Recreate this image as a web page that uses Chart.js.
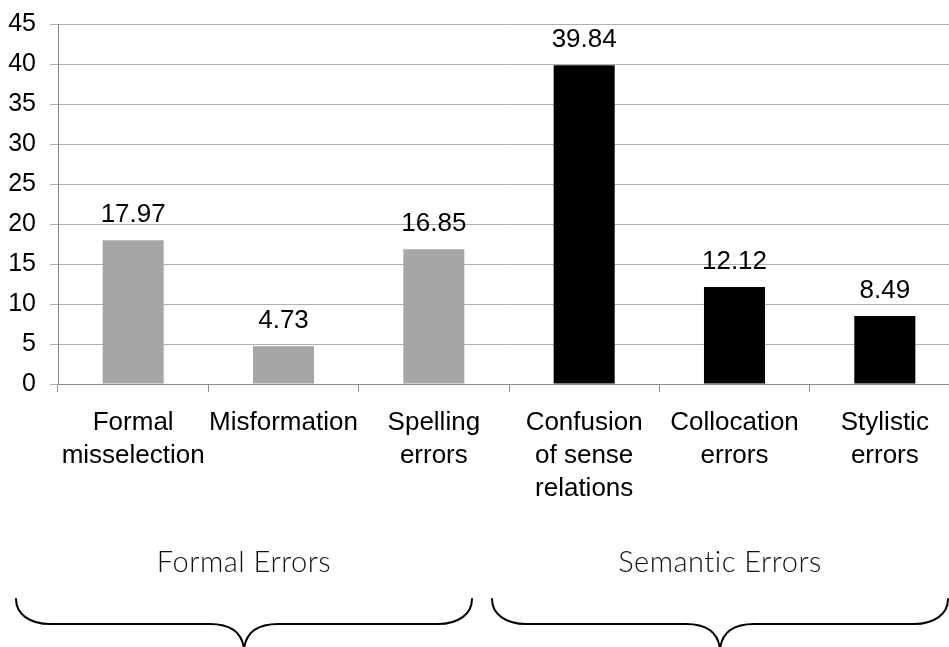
<!DOCTYPE html>
<html>
<head>
<meta charset="utf-8">
<script src="https://cdn.jsdelivr.net/npm/chart.js@4/dist/chart.umd.min.js"></script>
<style>
  html, body { margin: 0; padding: 0; background: #fff; overflow: hidden; }
  #wrap { width: 949px; height: 647px; overflow: hidden; }
  canvas { display: block; }
</style>
</head>
<body>
<div id="wrap"><canvas id="chart" width="960" height="647"></canvas></div>
<script>
// Error categories, in the order they are plotted
const categories = [
  ['Formal', 'misselection'],
  'Misformation',
  ['Spelling', 'errors'],
  ['Confusion', 'of sense', 'relations'],
  ['Collocation', 'errors'],
  ['Stylistic', 'errors']
];
// Share of errors per category
const errorRates = [17.97, 4.73, 16.85, 39.84, 12.12, 8.49];
// Which error family each category belongs to
const errorFamily = ['formal', 'formal', 'formal', 'semantic', 'semantic', 'semantic'];
// Value-axis ticks
const yMin = 0;
const yMax = 45;
const yStep = 5;
// Family captions under the chart
const familyLabels = ['Formal Errors', 'Semantic Errors'];

const familyColors = { formal: '#a6a6a6', semantic: '#000000' };

// Curly braces with their captions under the axis
const braceLayout = {
  top: 599, mid: 624, tip: 647, r: 34,
  spans: [[16, 472], [492, 948]],
  captionBaseline: 572
};

const bracePlugin = {
  id: 'familyBraces',
  afterDraw(chart) {
    const ctx = chart.ctx;
    const b = braceLayout;
    ctx.save();
    ctx.strokeStyle = '#000';
    ctx.lineWidth = 2;
    ctx.lineCap = 'round';
    b.spans.forEach(([x0, x1], i) => {
      const c = (x0 + x1) / 2;
      ctx.beginPath();
      ctx.moveTo(x0, b.top);
      ctx.bezierCurveTo(x0, b.top + (b.mid - b.top) * 0.6, x0 + b.r * 0.4, b.mid, x0 + b.r, b.mid);
      ctx.lineTo(c - b.r, b.mid);
      ctx.bezierCurveTo(c - b.r * 0.4, b.mid, c - 2, b.mid + 8, c, b.tip + 2);
      ctx.bezierCurveTo(c + 2, b.mid + 8, c + b.r * 0.4, b.mid, c + b.r, b.mid);
      ctx.lineTo(x1 - b.r, b.mid);
      ctx.bezierCurveTo(x1 - b.r * 0.4, b.mid, x1, b.top + (b.mid - b.top) * 0.6, x1, b.top);
      ctx.stroke();

      ctx.fillStyle = '#111';
      ctx.font = '300 29px Lato, "Open Sans", sans-serif';
      if ('letterSpacing' in ctx) ctx.letterSpacing = '0.5px';
      ctx.textAlign = 'center';
      ctx.textBaseline = 'alphabetic';
      ctx.fillText(familyLabels[i], c, b.captionBaseline);
    });
    ctx.restore();
  }
};

// Value printed above each bar
const valueLabelPlugin = {
  id: 'valueLabels',
  afterDatasetsDraw(chart) {
    const ctx = chart.ctx;
    const meta = chart.getDatasetMeta(0);
    const data = chart.data.datasets[0].data;
    ctx.save();
    ctx.fillStyle = '#000';
    ctx.font = '26px "Liberation Sans", Arial, sans-serif';
    ctx.textAlign = 'center';
    ctx.textBaseline = 'alphabetic';
    meta.data.forEach((bar, i) => {
      ctx.fillText(data[i].toFixed(2), bar.x, bar.y - 18.5);
    });
    ctx.restore();
  }
};

new Chart(document.getElementById('chart'), {
  type: 'bar',
  data: {
    labels: categories,
    datasets: [{
      data: errorRates,
      backgroundColor: errorFamily.map(f => familyColors[f]),
      borderWidth: 0,
      barPercentage: 0.406,
      categoryPercentage: 1.0
    }]
  },
  options: {
    responsive: false,
    animation: false,
    devicePixelRatio: 1,
    layout: { padding: { top: 24, left: 0, right: 0, bottom: 0 } },
    plugins: {
      legend: { display: false },
      tooltip: { enabled: false },
      title: { display: false }
    },
    scales: {
      x: {
        grid: {
          display: true,
          drawOnChartArea: false,
          drawTicks: true,
          tickLength: 8,
          color: '#8c8c8c',
          offset: true
        },
        border: { display: true, color: '#8c8c8c', width: 1 },
        ticks: {
          color: '#000',
          font: { family: '"Liberation Sans", Arial, sans-serif', size: 26, lineHeight: 1.27 },
          padding: 14,
          maxRotation: 0,
          autoSkip: false
        },
        afterFit(scale) { scale.height = 263; }
      },
      y: {
        min: yMin,
        max: yMax,
        grid: {
          color: '#b0b0b0',
          lineWidth: 1,
          drawTicks: true,
          tickLength: 8
        },
        border: { display: true, color: '#868686', width: 1 },
        ticks: {
          stepSize: yStep,
          color: '#000',
          font: { family: '"Liberation Sans", Arial, sans-serif', size: 25, lineHeight: 0.8 },
          padding: 14
        },
        afterFit(scale) {
          scale.width = 58;
          scale.paddingTop = 0;
          scale.paddingBottom = 0;
        }
      }
    }
  },
  plugins: [valueLabelPlugin, bracePlugin]
});
</script>
</body>
</html>
